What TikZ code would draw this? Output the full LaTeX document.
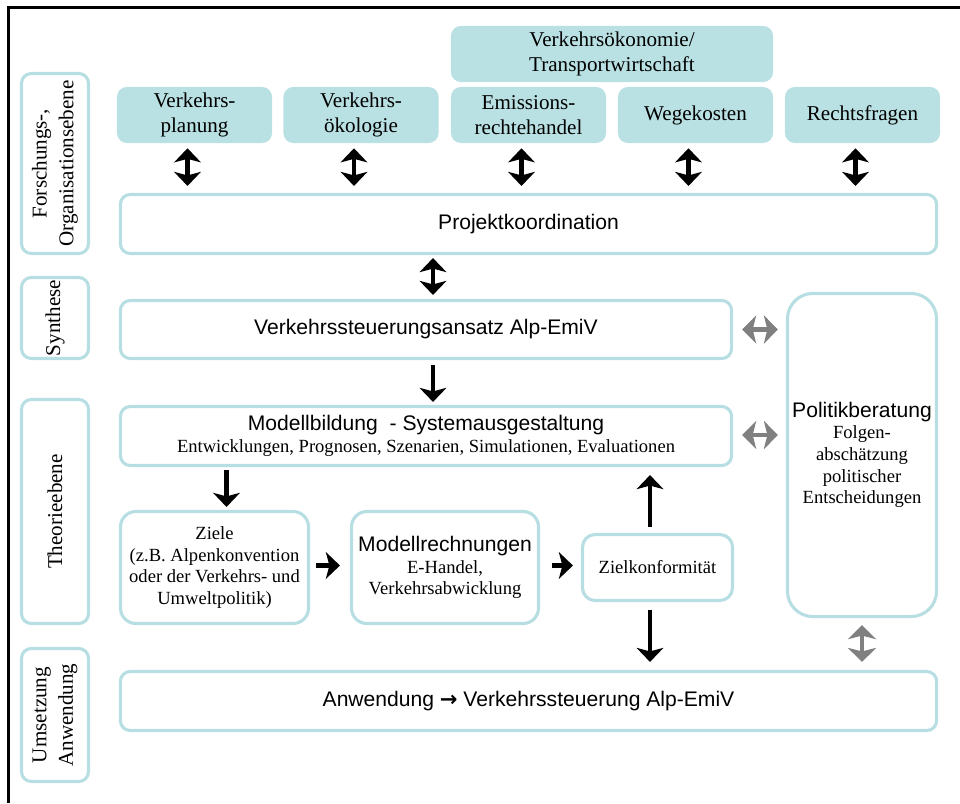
\documentclass[tikz,border=0pt]{standalone}
\usepackage{fontspec}
\setmainfont{Liberation Serif}
\setsansfont{Liberation Sans}
\newfontfamily\arrowfont{DejaVu Sans}
\usetikzlibrary{positioning,arrows.meta,calc}

\definecolor{tealfill}{RGB}{185,224,227}
\definecolor{tealline}{RGB}{183,222,226}
\definecolor{arrowgray}{RGB}{128,128,128}

\newcommand{\bigfont}{\fontsize{15}{17.8}\selectfont}
\newcommand{\smallfont}{\fontsize{13.2}{15.4}\selectfont}

\begin{document}
\begin{tikzpicture}[
				x=0.025cm, y=-0.025cm,
				field/.style={rectangle, rounded corners=7pt, fill=tealfill, minimum width=3.875cm, minimum height=1.4cm, align=center, inner sep=1pt, font=\bigfont},
				component/.style={rectangle, rounded corners=7pt, draw=tealline, line width=2.2pt, align=center, inner sep=1pt},
				level/.style={component, rotate=90, minimum height=1.675cm, font=\fontsize{15}{19}\selectfont},
				twoway/.style={{Stealth[length=10pt,width=19pt,inset=2.5pt]}-{Stealth[length=10pt,width=19pt,inset=2.5pt]}, line width=3pt},
				oneway/.style={-{Stealth[length=10pt,width=19pt,inset=2.5pt]}, line width=3pt},
				grayway/.style={{Stealth[length=10pt,width=20pt,inset=2.5pt]}-{Stealth[length=10pt,width=20pt,inset=2.5pt]}, line width=3.5pt, arrowgray}
				]
				\useasboundingbox (0,0) rectangle (960,803);
				\draw[line width=1.8pt] (960,7.5) -- (8.7,7.5) -- (8.7,803);
				
				% Ebenen links
				\node[level, minimum width=4.5cm] (lblforsch) at (55,163.5) {Forschungs-,\\Organisationsebene};
				\node[level, minimum width=2.025cm] (lblsynth) at (55,318) {Synthese};
				\node[level, minimum width=5.6cm] (lbltheorie) at (55,511.5) {Theorieebene};
				\node[level, minimum width=3.325cm] (lblumsetz) at (55,715) {Umsetzung\\Anwendung};
				
				% Fachbereiche
				\node[field, minimum width=8.05cm] (oekonomie) at (612,54) {Verkehrsökonomie/\\Transportwirtschaft};
				\node[field] (planung) at (194.5,115) {Verkehrs-\\planung};
				\node[field] (oekologie) at (361,115) {Verkehrs-\\ökologie};
				\node[field] (emission) at (528.5,115) {Emissions-\\rechtehandel};
				\node[field] (wegekosten) at (695.5,115) {Wegekosten};
				\node[field] (recht) at (862.5,115) {Rechtsfragen};
				
				% Hauptblöcke
				\node[component, font=\sffamily\bigfont, minimum width=20.4cm, minimum height=1.475cm] (projekt) at (528.5,224) {Projektkoordination};
				\node[component, font=\sffamily\bigfont, minimum width=15.275cm, minimum height=1.45cm] (ansatz) at (426,329.5) {Verkehrssteuerungsansatz Alp-EmiV};
				\node[component, font=\smallfont, minimum width=15.275cm, minimum height=1.475cm] (modell) at (426,436) {{\sffamily\bigfont Modellbildung\ \ - Systemausgestaltung}\\Entwicklungen, Prognosen, Szenarien, Simulationen, Evaluationen};
				\node[component, rounded corners=11pt, font=\smallfont, minimum width=4.7cm, minimum height=2.8cm] (ziele) at (214.5,567.5) {Ziele\\(z.B. Alpenkonvention\\oder der Verkehrs- und\\Umweltpolitik)};
				\node[component, rounded corners=11pt, font=\smallfont, minimum width=4.675cm, minimum height=2.8cm] (rechnung) at (445,567.5) {{\sffamily\bigfont Modellrechnungen}\\E-Handel,\\Verkehrsabwicklung};
				\node[component, rounded corners=9pt, font=\smallfont, minimum width=3.75cm, minimum height=1.65cm] (konform) at (657.5,567.5) {Zielkonformität};
				\node[component, rounded corners=18pt, font=\smallfont, minimum width=3.725cm, minimum height=8.075cm] (politik) at (862,455) {{\sffamily\bigfont Politikberatung}\\Folgen-\\abschätzung\\politischer\\Entscheidungen};
				\node[component, font=\sffamily\bigfont, minimum width=20.4cm, minimum height=1.475cm] (anwendung) at (528.5,701) {Anwendung {\arrowfont\bfseries →} Verkehrssteuerung Alp-EmiV};
				
				% Pfeile Fachbereiche - Koordination
				\draw[twoway] ($(planung.south)+(-7,5)$) -- ($(planung.south |- projekt.north)+(-7,-7)$);
				\draw[twoway] ($(oekologie.south)+(-7,5)$) -- ($(oekologie.south |- projekt.north)+(-7,-7)$);
				\draw[twoway] ($(emission.south)+(-7,5)$) -- ($(emission.south |- projekt.north)+(-7,-7)$);
				\draw[twoway] ($(wegekosten.south)+(-7,5)$) -- ($(wegekosten.south |- projekt.north)+(-7,-7)$);
				\draw[twoway] ($(recht.south)+(-7,5)$) -- ($(recht.south |- projekt.north)+(-7,-7)$);
				
				% Ablauf
				\draw[twoway] ($(ansatz.north |- projekt.south)+(7,3)$) -- ($(ansatz.north)+(7,-4)$);
				\draw[oneway] ($(ansatz.south)+(7,5)$) -- ($(modell.north)+(7,-3)$);
				\draw[oneway] ($(ziele.north |- modell.south)+(12,3)$) -- ($(ziele.north)+(12,-3)$);
				\draw[oneway] ($(ziele.east)+(6,-2)$) -- ($(rechnung.west)+(-10,-2)$);
				\draw[oneway] ($(rechnung.east)+(12,-2)$) -- ($(konform.west)+(-8,-2)$);
				\draw[oneway] ($(konform.north)+(-7.5,-6)$) -- ($(konform.north |- modell.south)+(-7.5,8)$);
				\draw[oneway] ($(konform.south)+(-7.5,8)$) -- ($(konform.south |- anwendung.north)+(-7.5,-8)$);
				
				% Politikberatung
				\draw[grayway] ($(ansatz.east)+(9,0)$) -- ($(ansatz.east -| politik.west)+(-8,0)$);
				\draw[grayway] ($(modell.east)+(9,-1)$) -- ($(modell.east -| politik.west)+(-8,-1)$);
				\draw[grayway] ($(politik.south)+(0,7)$) -- ($(politik.south |- anwendung.north)+(0,-8)$);
			\end{tikzpicture}
\end{document}
